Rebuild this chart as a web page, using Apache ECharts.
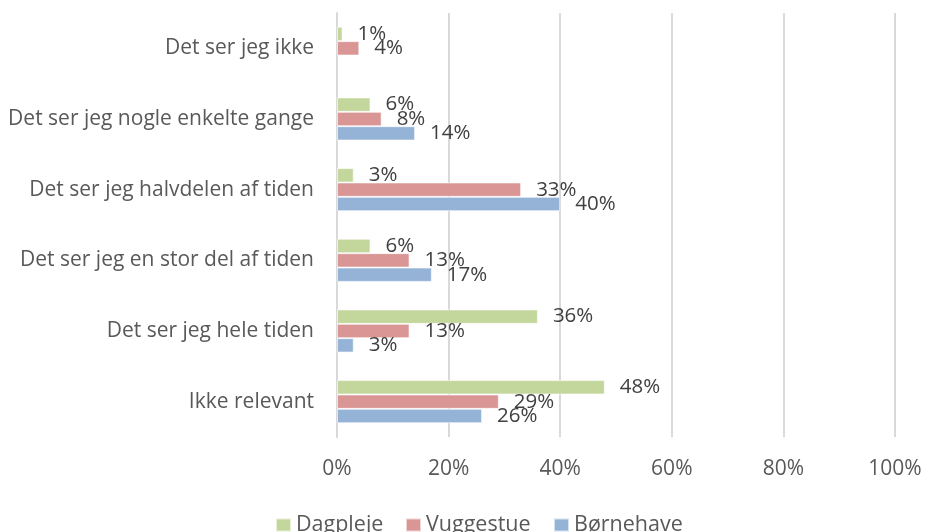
<!DOCTYPE html>
<html>
<head>
<meta charset="utf-8">
<script src="https://cdn.jsdelivr.net/npm/echarts@6/dist/echarts.min.js"></script>
<style>
  html, body { margin: 0; padding: 0; background: #ffffff; }
  #chart { width: 925px; height: 532px; }
</style>
</head>
<body>
<div id="chart"></div>
<script>
// Answer categories, top to bottom
const categories = [
  'Det ser jeg ikke',
  'Det ser jeg nogle enkelte gange',
  'Det ser jeg halvdelen af tiden',
  'Det ser jeg en stor del af tiden',
  'Det ser jeg hele tiden',
  'Ikke relevant'
];

// Share of answers (%) per institution type
const seriesNames = ['Dagpleje', 'Vuggestue', 'Børnehave'];
const dagpleje   = [1, 6, 3, 6, 36, 48];
const vuggestue  = [4, 8, 33, 13, 13, 29];
const boernehave = [null, 14, 40, 17, 3, 26];

const xTicks = [0, 20, 40, 60, 80, 100];

const FONT = '"Open Sans", "Noto Sans", sans-serif';
const COLORS = ['#c3d69b', '#d99694', '#95b3d7'];
const legendLeft = [270, 400, 548];

function barSeries(name, data, color) {
  return {
    name: name,
    type: 'bar',
    data: data,
    barGap: '0%',
    barCategoryGap: '39%',
    itemStyle: { color: color, borderColor: 'rgba(255,255,255,0.6)', borderWidth: 1 },
    label: {
      show: true,
      position: 'right',
      distance: 15,
      color: '#404040',
      fontFamily: FONT,
      fontSize: 20.5,
      formatter: p => (p.value == null ? '' : p.value + '%')
    }
  };
}

// one legend block per series so each entry sits at its own x position
const legends = seriesNames.map((name, i) => ({
  data: [name],
  left: legendLeft[i],
  top: 509,
  icon: 'rect',
  itemWidth: 15,
  itemHeight: 13,
  textStyle: { color: '#595959', fontSize: 21.5, fontFamily: FONT }
}));

const chart = echarts.init(document.getElementById('chart'));
chart.setOption({
  animation: false,
  backgroundColor: '#ffffff',
  textStyle: { fontFamily: FONT },
  grid: { left: 337, right: 30, top: 13, bottom: 95, containLabel: false },
  legend: legends,
  xAxis: {
    type: 'value',
    min: xTicks[0],
    max: xTicks[xTicks.length - 1],
    interval: 20,
    axisLine: { show: false },
    axisTick: { show: false },
    splitLine: { lineStyle: { color: '#d9d9d9', width: 2 } },
    axisLabel: {
      margin: 22,
      color: '#595959',
      fontSize: 21,
      fontFamily: FONT,
      formatter: '{value}%'
    }
  },
  yAxis: {
    type: 'category',
    inverse: true,
    data: categories,
    axisLine: { show: true, lineStyle: { color: '#d9d9d9', width: 2 } },
    axisTick: { show: false },
    axisLabel: {
      margin: 23,
      color: '#595959',
      fontSize: 21,
      fontFamily: FONT
    }
  },
  series: [
    barSeries(seriesNames[0], dagpleje, COLORS[0]),
    barSeries(seriesNames[1], vuggestue, COLORS[1]),
    barSeries(seriesNames[2], boernehave, COLORS[2])
  ]
});
</script>
</body>
</html>
